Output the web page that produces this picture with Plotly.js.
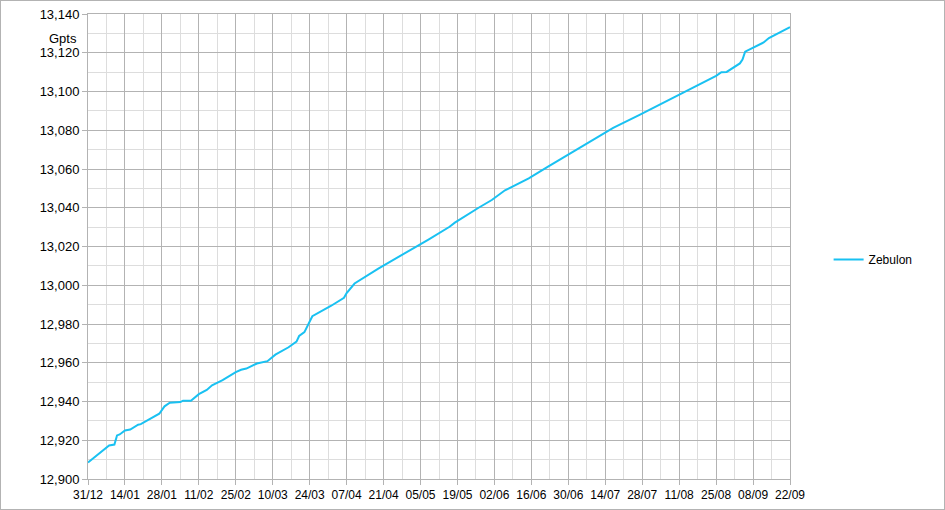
<!DOCTYPE html>
<html>
<head>
<meta charset="utf-8">
<script src="https://cdn.plot.ly/plotly-3.0.1.min.js"></script>
<style>
  html, body { margin: 0; padding: 0; background: #fff; }
  #chart { width: 945px; height: 510px; box-sizing: border-box; border: 1px solid #b3b3b3; }
</style>
</head>
<body>
<div id="chart"></div>
<script>
const dates = [
  '2019-12-31','2020-01-08','2020-01-10','2020-01-11','2020-01-12','2020-01-14','2020-01-16','2020-01-19',
  '2020-01-20','2020-01-27','2020-01-29','2020-01-31','2020-02-04','2020-02-05','2020-02-08','2020-02-11',
  '2020-02-14','2020-02-16','2020-02-20','2020-02-25','2020-02-27','2020-02-29','2020-03-04','2020-03-06',
  '2020-03-08','2020-03-11','2020-03-16','2020-03-19','2020-03-20','2020-03-22','2020-03-24','2020-03-25',
  '2020-04-01','2020-04-06','2020-04-07','2020-04-10','2020-04-19','2020-04-27','2020-05-02','2020-05-05',
  '2020-05-08','2020-05-16','2020-05-18','2020-05-27','2020-06-01','2020-06-06','2020-06-15','2020-06-22',
  '2020-06-30','2020-07-08','2020-07-14','2020-07-17','2020-07-27','2020-08-03','2020-08-11',
  '2020-08-25','2020-08-27','2020-08-29','2020-09-03','2020-09-04','2020-09-05','2020-09-12','2020-09-14',
  '2020-09-22'
];
const zebulon = [
  12908.5, 12917.3, 12917.8, 12922.5, 12923.0, 12925.0, 12925.5, 12928.0,
  12928.3, 12933.7, 12937.5, 12939.4, 12939.7, 12940.4, 12940.4, 12943.8,
  12946.0, 12948.4, 12951.0, 12955.2, 12956.4, 12957.0, 12959.6, 12960.3,
  12960.8, 12964.2, 12968.0, 12970.9, 12973.8, 12975.8, 12981.0, 12984.0,
  12989.3, 12993.5, 12996.0, 13000.9, 13008.6, 13014.9, 13018.5, 13021.0,
  13023.6, 13030.2, 13032.3, 13040.0, 13044.0, 13049.0, 13055.2, 13061.0,
  13067.6, 13074.1, 13079.1, 13081.2, 13087.9, 13092.8, 13098.4,
  13108.1, 13110.0, 13110.1, 13114.5, 13116.5, 13120.6, 13125.3, 13127.6,
  13133.2
];
const seriesName = 'Zebulon';
const yUnit = 'Gpts';
const xStart = '2019-12-31';
const xEnd = '2020-09-22';
const yMin = 12900, yMax = 13140;

const DAY = 86400000;
const gridMajor = '#b3b3b3';
const gridMinor = '#dddddd';

const trace = {
  x: dates, y: zebulon, type: 'scatter', mode: 'lines', name: seriesName,
  line: { color: '#19c1f2', width: 2 }
};

const layout = {
  width: 943, height: 508,
  margin: { l: 87, r: 154, t: 13, b: 30 },
  paper_bgcolor: '#ffffff', plot_bgcolor: '#ffffff',
  font: { family: 'Liberation Sans, Arial, sans-serif', size: 12, color: '#000' },
  showlegend: true,
  legend: { x: 1.055, y: 0.472, xanchor: 'left', yanchor: 'middle', font: { size: 12 }, bgcolor: 'rgba(0,0,0,0)' },
  xaxis: {
    type: 'date', range: [xStart, xEnd],
    tick0: xStart, dtick: 14 * DAY, tickformat: '%d/%m',
    showgrid: true, gridcolor: gridMajor, gridwidth: 1,
    minor: { tick0: xStart, dtick: 7 * DAY, showgrid: true, gridcolor: gridMinor, gridwidth: 1 },
    showline: true, linecolor: gridMajor, linewidth: 1, mirror: true,
    ticks: 'outside', ticklen: 5, tickcolor: gridMajor,
    tickfont: { size: 12 }, zeroline: false, fixedrange: true
  },
  yaxis: {
    range: [yMin, yMax], dtick: 20, tick0: yMin, tickformat: ',d',
    showgrid: true, gridcolor: gridMajor, gridwidth: 1,
    minor: { tick0: yMin, dtick: 10, showgrid: true, gridcolor: gridMinor, gridwidth: 1 },
    showline: true, linecolor: gridMajor, linewidth: 1, mirror: true,
    ticks: 'outside', ticklen: 5, tickcolor: gridMajor,
    tickfont: { size: 13 }, zeroline: false, fixedrange: true
  },
  annotations: [{
    text: yUnit, xref: 'paper', yref: 'paper', x: 0, y: 1,
    xanchor: 'right', yanchor: 'top', xshift: -9, yshift: -15,
    showarrow: false, font: { size: 13, color: '#000' }
  }]
};

Plotly.newPlot('chart', [trace], layout, { displayModeBar: false, staticPlot: true });
</script>
</body>
</html>
